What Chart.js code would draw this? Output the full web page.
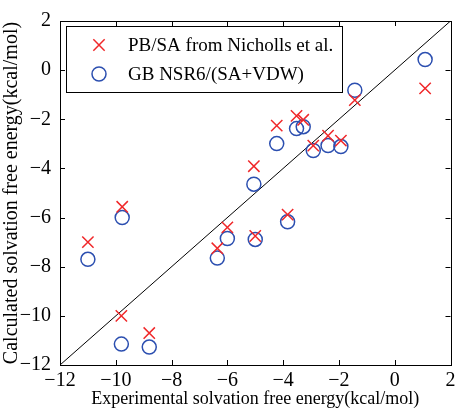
<!DOCTYPE html>
<html>
<head>
<meta charset="utf-8">
<script src="https://cdn.jsdelivr.net/npm/chart.js@4/dist/chart.umd.min.js"></script>
<style>
  html, body { margin: 0; padding: 0; background: #fff; }
  #wrap { width: 460px; height: 410px; }
</style>
</head>
<body>
<div id="wrap"><canvas id="chart" width="460" height="410"></canvas></div>
<script>
// experimental values (x), shared by both series
const experimental = [-11.0, -9.77, -9.8, -8.8, -6.36, -6.0, -5.0, -3.84, -5.05, -4.23, -3.52, -3.28, -2.92, -2.39, -1.93, -1.43, 1.09];
const pbsa = [-7.0, -5.56, -10.0, -10.7, -7.25, -6.4, -6.75, -5.88, -3.91, -2.26, -1.86, -2.02, -3.07, -2.67, -2.87, -1.22, -0.74];
const gbnsr6 = [-7.7, -6.0, -11.15, -11.27, -7.65, -6.85, -6.89, -6.17, -4.64, -2.99, -2.38, -2.3, -3.27, -3.07, -3.11, -0.82, 0.43];
const seriesNames = ['PB/SA from Nicholls et al.', 'GB NSR6/(SA+VDW)'];
const axisMin = -12, axisMax = 2, tickStep = 2;
const xTitle = 'Experimental solvation free energy(kcal/mol)';
const yTitle = 'Calculated solvation free energy(kcal/mol)';

const RED = '#f0282a';
const BLUE = '#2c4fb0';
const FONT = '"Liberation Serif", "DejaVu Serif", serif';

const toPoints = ys => experimental.map((x, i) => ({ x: x, y: ys[i] }));
const minus = v => String(v).replace('-', '\u2212');

// inward ticks on all four sides, plus the box
const frame = {
  id: 'frame',
  afterDatasetsDraw(chart) {
    const { ctx, chartArea: a, scales } = chart;
    ctx.save();
    ctx.strokeStyle = '#000';
    ctx.lineWidth = 1;
    ctx.strokeRect(Math.round(a.left) + 0.5, Math.round(a.top) + 0.5,
      Math.round(a.right - a.left), Math.round(a.bottom - a.top));
    ctx.beginPath();
    for (let v = axisMin; v <= axisMax; v += tickStep) {
      const px = Math.round(scales.x.getPixelForValue(v)) + 0.5;
      ctx.moveTo(px, a.bottom); ctx.lineTo(px, a.bottom - 5);
      ctx.moveTo(px, a.top); ctx.lineTo(px, a.top + 5);
      const py = Math.round(scales.y.getPixelForValue(v)) + 0.5;
      ctx.moveTo(a.left, py); ctx.lineTo(a.left + 5, py);
      ctx.moveTo(a.right, py); ctx.lineTo(a.right - 5, py);
    }
    ctx.stroke();
    ctx.restore();
  }
};

// boxed legend in the top-left of the plot (only the two marker series)
const boxLegend = {
  id: 'boxLegend',
  afterDraw(chart) {
    const { ctx, chartArea: a } = chart;
    const x0 = a.left + 6, y0 = a.top + 5, w = 276, h = 66;
    ctx.save();
    ctx.fillStyle = '#fff';
    ctx.fillRect(x0, y0, w, h);
    ctx.strokeStyle = '#000';
    ctx.lineWidth = 1;
    ctx.strokeRect(x0 + 0.5, y0 + 0.5, w, h);
    chart.data.datasets.slice(0, 2).forEach((ds, i) => {
      const cx = x0 + 33, cy = y0 + 19 + i * 29;
      const r = ds.pointRadius;
      ctx.strokeStyle = ds.borderColor;
      ctx.lineWidth = ds.borderWidth;
      ctx.beginPath();
      if (ds.pointStyle === 'crossRot') {
        const d = r * Math.SQRT1_2;
        ctx.moveTo(cx - d, cy - d); ctx.lineTo(cx + d, cy + d);
        ctx.moveTo(cx - d, cy + d); ctx.lineTo(cx + d, cy - d);
      } else {
        ctx.arc(cx, cy, r, 0, Math.PI * 2);
      }
      ctx.stroke();
      ctx.fillStyle = '#000';
      ctx.font = '19px ' + FONT;
      ctx.textBaseline = 'middle';
      ctx.fillText(ds.label, x0 + 62, cy + 1);
    });
    ctx.restore();
  }
};

new Chart(document.getElementById('chart'), {
  type: 'scatter',
  data: {
    datasets: [
      {
        label: seriesNames[0],
        data: toPoints(pbsa),
        pointStyle: 'crossRot',
        pointRadius: 8,
        borderColor: RED,
        backgroundColor: RED,
        borderWidth: 1.5
      },
      {
        label: seriesNames[1],
        data: toPoints(gbnsr6),
        pointStyle: 'circle',
        pointRadius: 7,
        borderColor: BLUE,
        backgroundColor: 'rgba(0,0,0,0)',
        borderWidth: 1.5
      },
      {
        type: 'line',
        label: 'y = x',
        data: [{ x: axisMin, y: axisMin }, { x: axisMax, y: axisMax }],
        borderColor: '#000',
        borderWidth: 1,
        pointRadius: 0,
        fill: false,
        order: 5
      }
    ]
  },
  options: {
    responsive: false,
    animation: false,
    events: [],
    layout: { padding: { top: 17, right: 5, left: 0, bottom: 0 } },
    plugins: {
      legend: { display: false },
      tooltip: { enabled: false },
      boxLegend: {}
    },
    scales: {
      x: {
        type: 'linear',
        min: axisMin, max: axisMax,
        grid: { display: false, drawTicks: false },
        border: { display: false },
        ticks: {
          stepSize: tickStep,
          color: '#000',
          padding: 4,
          maxRotation: 0,
          font: { family: FONT, size: 20 },
          callback: v => minus(v)
        },
        title: {
          display: true,
          text: xTitle,
          color: '#000',
          padding: { top: -3, bottom: 0 },
          font: { family: FONT, size: 18 }
        },
        afterFit: s => { s.height = 45; }
      },
      y: {
        type: 'linear',
        min: axisMin, max: axisMax,
        grid: { display: false, drawTicks: false },
        border: { display: false },
        ticks: {
          stepSize: tickStep,
          color: '#000',
          padding: 9,
          font: { family: FONT, size: 20 },
          callback: v => minus(v)
        },
        title: {
          display: true,
          text: yTitle,
          color: '#000',
          padding: { top: 0, bottom: 0 },
          font: { family: FONT, size: 20 }
        },
        afterFit: s => { s.width = 60; }
      }
    }
  },
  plugins: [frame, boxLegend]
});
</script>
</body>
</html>
